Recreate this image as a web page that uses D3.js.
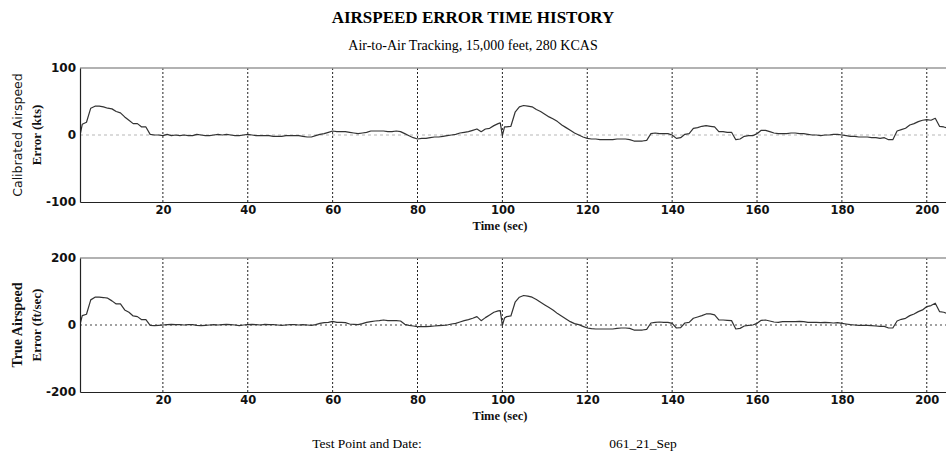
<!DOCTYPE html>
<html><head><meta charset="utf-8">
<script src="https://cdn.jsdelivr.net/npm/d3@7"></script>
<style>
html,body{margin:0;padding:0;background:#fff;overflow:hidden;}
svg{display:block;}
</style></head>
<body>
<script>
// ---------- data ----------
const chartTitle = "AIRSPEED ERROR TIME HISTORY";
const chartSubtitle = "Air-to-Air Tracking, 15,000 feet, 280 KCAS";
const xTickValues = [20,40,60,80,100,120,140,160,180,200];
const casTickValues = [-100,0,100];
const tasTickValues = [-200,0,200];

const timeSec = [0.5,
 1,2,3,4,5,6,7,8,9,10,
 11,12,13,14,15,16,17,18,19,20,
 21,22,23,24,25,26,27,28,29,30,
 31,32,33,34,35,36,37,38,39,40,
 41,42,43,44,45,46,47,48,49,50,
 51,52,53,54,55,56,57,58,59,60,
 61,62,63,64,65,66,67,68,69,70,
 71,72,73,74,75,76,77,78,79,80,
 81,82,83,84,85,86,87,88,89,90,
 91,92,93,94,95,96,97,98,99,
 99.5,100,100.5,
 101,102,103,104,105,106,107,108,109,110,
 111,112,113,114,115,116,117,118,119,120,
 121,122,123,124,125,126,127,128,129,130,
 131,132,133,134,135,136,137,138,139,140,
 141,142,143,144,145,146,147,148,149,150,
 151,152,153,154,155,156,157,158,159,160,
 161,162,163,164,165,166,167,168,169,170,
 171,172,173,174,175,176,177,178,179,180,
 181,182,183,184,185,186,187,188,189,190,
 191,192,193,194,195,196,197,198,199,200,
 201,202,203,204,205];

// Calibrated airspeed error (kts)
const casError = [0,
 16,19,40,43,43,42,40,39,35,33,
 27,22,17,17,12,12,1,0,0,-1,
 1,-1,0,-1,0,-1,-1,1,0,-1,
 -1,0,1,0,1,0,-1,-1,0,1,
 0,-1,-1,-1,-1,-2,-2,-2,-1,-1,
 -1,-1,-2,-3,-3,-1,1,2,4,6,
 5,5,5,4,3,2,3,4,6,6,
 6,6,5,5,6,5,2,-1,-4,-6,
 -5,-5,-4,-3,-3,-2,-1,0,1,3,
 4,5,7,9,5,9,10,14,17,
 18,-1,12,
 12,13,34,42,44,43,42,38,35,31,
 27,24,20,15,11,7,3,0,-3,-5,
 -6,-6,-7,-7,-7,-7,-6,-6,-6,-7,
 -9,-9,-9,-8,2,3,2,2,2,0,
 -5,-4,1,2,10,11,13,14,13,12,
 5,5,4,4,-7,-6,-2,-1,-1,2,
 7,7,5,3,2,2,2,3,3,2,
 2,1,0,0,-1,0,0,1,1,0,
 -1,-2,-2,-3,-3,-3,-4,-4,-5,-4,
 -7,-7,6,8,10,15,17,20,22,23,
 22,25,13,12,10];

// True airspeed error (ft/sec)
const tasError = [3,
 28,32,75,83,83,82,80,72,63,63,
 45,38,27,25,16,16,-1,-2,-1,0,
 1,2,1,1,0,1,1,-1,-2,-1,
 0,1,0,1,2,1,0,-2,0,1,
 2,1,0,2,1,1,0,-1,0,1,
 1,0,1,0,-1,1,5,7,8,11,
 8,8,7,3,2,1,4,8,10,12,
 13,15,13,13,13,12,2,-1,-3,-5,
 -5,-5,-4,-3,-2,-1,0,3,5,9,
 13,16,20,25,13,22,30,38,42,
 43,-1,21,
 25,27,68,83,88,86,83,76,68,60,
 52,44,34,26,18,10,4,1,-4,-9,
 -11,-12,-12,-12,-12,-12,-10,-9,-9,-10,
 -15,-15,-15,-13,6,8,9,8,8,5,
 -9,-8,6,8,20,24,28,33,33,30,
 15,15,14,13,-12,-10,-3,-1,0,5,
 14,15,12,9,8,10,10,10,10,11,
 10,8,8,8,7,8,7,6,7,5,
 3,1,0,-1,-1,-1,-2,-3,-4,-4,
 -9,-9,12,17,20,28,33,40,45,55,
 58,65,40,38,33];

const panels = [
  {key:"cas", values: casError, domain:[-100,100], ticks: casTickValues, top:68, bottom:202,
   label1:"Calibrated Airspeed", label2:"Error (kts)", zeroColor:"#b8b8b8", zeroDash:"3,3"},
  {key:"tas", values: tasError, domain:[-200,200], ticks: tasTickValues, top:258, bottom:392,
   label1:"True Airspeed", label2:"Error (ft/sec)", zeroColor:"#444", zeroDash:"2,3"}
];

// ---------- drawing ----------
const W = 946, H = 458;
const left = 80, right = 948;
const svg = d3.select("body").append("svg").attr("width", W).attr("height", H);

const x = d3.scaleLinear().domain([0.47, 205]).range([left, right]);
const serif = "'Liberation Serif','Times New Roman',serif";
const sans = "'DejaVu Sans',sans-serif";
const fmt = d => String(d);

svg.append("text").attr("x", 473).attr("y", 23).attr("text-anchor","middle")
  .attr("font-family", serif).attr("font-weight","bold").attr("font-size", 17)
  .attr("fill","#000").text(chartTitle);
svg.append("text").attr("x", 473).attr("y", 50).attr("text-anchor","middle")
  .attr("font-family", serif).attr("font-size", 14)
  .attr("fill","#000").text(chartSubtitle);

panels.forEach((p, i) => {
  const y = d3.scaleLinear().domain(p.domain).range([p.bottom, p.top]);
  const g = svg.append("g");
  const clipId = "clip" + i;
  svg.append("clipPath").attr("id", clipId).append("rect")
    .attr("x", left).attr("y", p.top).attr("width", right-left).attr("height", p.bottom-p.top);

  // vertical grid
  g.append("g").selectAll("line").data(xTickValues).join("line")
    .attr("x1", d => x(d)).attr("x2", d => x(d))
    .attr("y1", p.top).attr("y2", p.bottom)
    .attr("stroke", "#222").attr("stroke-width", 1).attr("stroke-dasharray", "2,2");

  // zero line
  g.append("line").attr("x1", left).attr("x2", right)
    .attr("y1", y(0)).attr("y2", y(0))
    .attr("stroke", p.zeroColor).attr("stroke-width", 1.2).attr("stroke-dasharray", p.zeroDash);

  // data line
  const line = d3.line().x((d, j) => x(timeSec[j])).y(d => y(d)).curve(d3.curveLinear);
  g.append("path").datum(p.values).attr("clip-path", `url(#${clipId})`)
    .attr("d", line).attr("fill","none").attr("stroke","#333").attr("stroke-width",1.2)
    .attr("stroke-linejoin","round");

  // frame top
  g.append("line").attr("x1", left).attr("x2", right).attr("y1", p.top).attr("y2", p.top)
    .attr("stroke", "#999").attr("stroke-width", 1.5);

  // x axis
  const xa = g.append("g").attr("transform", `translate(0,${p.bottom})`)
    .call(d3.axisBottom(x).tickValues(xTickValues).tickSize(0).tickPadding(4).tickFormat(fmt));
  xa.select(".domain").attr("stroke","#222").attr("stroke-width",1.2);
  xa.selectAll("text").attr("font-family", sans).attr("font-weight","bold").attr("font-size", 11.5).attr("fill","#111");

  // y axis
  const ya = g.append("g").attr("transform", `translate(${left},0)`)
    .call(d3.axisLeft(y).tickValues(p.ticks).tickSize(0).tickPadding(4).tickFormat(fmt));
  ya.select(".domain").attr("stroke","#222").attr("stroke-width",1.2);
  ya.selectAll("text").attr("font-family", sans).attr("font-weight","bold").attr("font-size", 12).attr("fill","#111");

  // x axis title
  svg.append("text").attr("x", 500).attr("y", p.bottom + 28).attr("text-anchor","middle")
    .attr("font-family", serif).attr("font-weight","bold").attr("font-size", 12.5)
    .attr("fill","#111").text("Time (sec)");

  // y axis title (two lines)
  const cy = (p.top + p.bottom) / 2;
  svg.append("text").attr("transform", `translate(22,${cy}) rotate(-90)`).attr("text-anchor","middle")
    .attr("font-family", i === 0 ? sans : serif).attr("font-weight", i === 0 ? "normal" : "bold")
    .attr("font-size", i === 0 ? 12.5 : 14).attr("fill","#111").text(p.label1);
  svg.append("text").attr("transform", `translate(41,${cy}) rotate(-90)`).attr("text-anchor","middle")
    .attr("font-family", serif).attr("font-weight","bold")
    .attr("font-size", 13).attr("fill","#111").text(p.label2);
});

svg.append("text").attr("x", 367).attr("y", 448).attr("text-anchor","middle")
  .attr("font-family", serif).attr("font-size", 13.5).attr("fill","#000").text("Test Point and Date:");
svg.append("text").attr("x", 643).attr("y", 448).attr("text-anchor","middle")
  .attr("font-family", serif).attr("font-size", 13.5).attr("fill","#000").text("061_21_Sep");
</script>
</body></html>
